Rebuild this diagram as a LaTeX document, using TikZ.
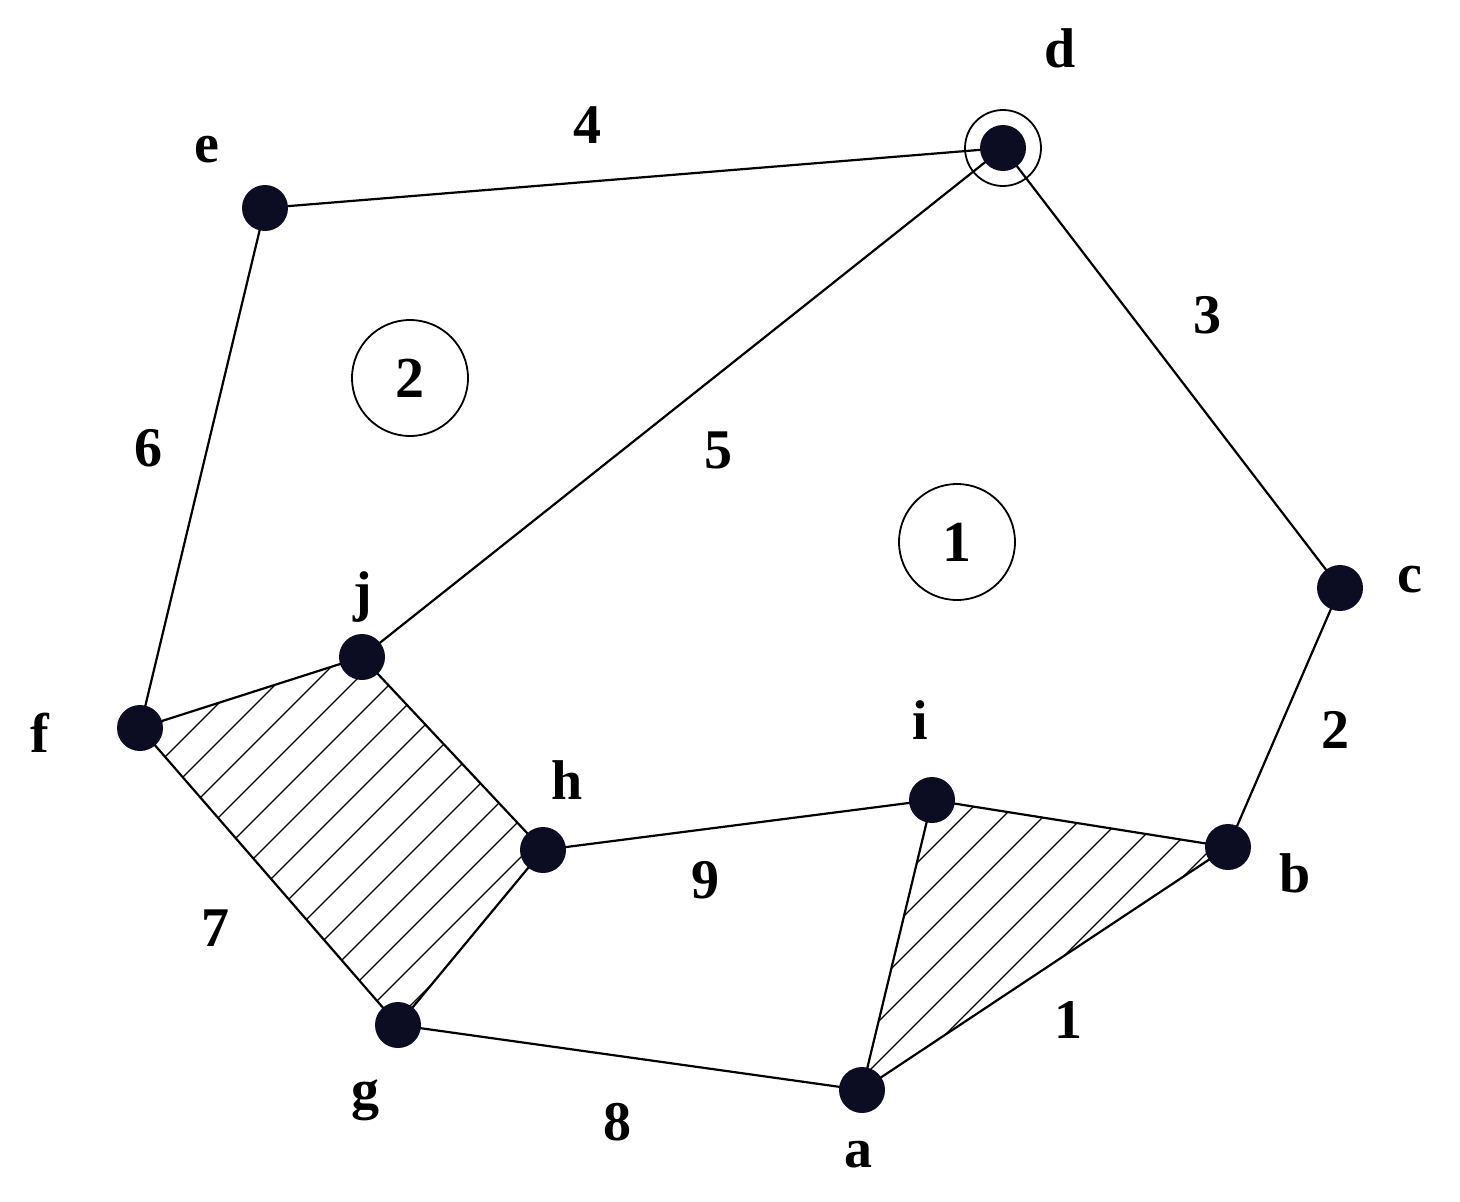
\documentclass[tikz,border=0pt]{standalone}
\usepackage{fontspec}
\setmainfont{Liberation Serif}
\begin{document}
\begin{tikzpicture}[x=1pt,y=-1pt,
  vtx/.style={circle,fill={rgb,255:red,12;green,12;blue,35},minimum size=46pt,inner sep=0pt},
  lbl/.style={font=\fontsize{56}{60}\selectfont\bfseries,inner sep=0pt},
  ring/.style={circle,draw,line width=1.8pt,minimum size=116pt,inner sep=0pt,font=\fontsize{58}{60}\selectfont\bfseries},
  edge/.style={line width=2.2pt}]
\useasboundingbox (0,0) rectangle (1460,1202);
\coordinate (D) at (1003,148); \coordinate (E) at (265,208);
\coordinate (C) at (1340,588); \coordinate (B) at (1228,847);
\coordinate (A) at (862,1090); \coordinate (G) at (398,1025);
\coordinate (H) at (543,850); \coordinate (I) at (932,800);
\coordinate (J) at (362,657); \coordinate (F) at (140,728);
% hatching
\begin{scope}
\clip (F)--(J)--(H)--(G)--cycle;
\foreach \c in {200,238,...,1500} \draw[line width=1.2pt] (\c-1300,1300)--(\c,0);
\end{scope}
\begin{scope}
\clip (I)--(B)--(A)--cycle;
\foreach \c in {1500,1540,...,2300} \draw[line width=1.2pt] (\c-1300,1300)--(\c,0);
\end{scope}
\draw[edge] (E)--(D)--(C)--(B)--(A)--(G)--(F)--(E);
\draw[edge] (D)--(J)--(F); \draw[edge] (J)--(H)--(G); \draw[edge] (H)--(I)--(B); \draw[edge] (I)--(A);
\foreach \n in {D,E,C,B,A,G,H,I,J,F} \node[vtx] (v\n) at (\n) {};
\node[circle,draw,line width=1.8pt,minimum size=76pt] (dring) at (D) {};
\node[lbl] (ld) at (1060,48) {d};
\node[lbl] (le) at (207,150) {e};
\node[lbl] (lc) at (1410,580) {c};
\node[lbl] (lb) at (1295,873) {b};
\node[lbl] (la) at (858,1155) {a};
\node[lbl] (lg) at (365,1100) {g};
\node[lbl] (lh) at (567,780) {h};
\node[lbl] (li) at (920,720) {i};
\node[lbl] (lj) at (363,597) {j};
\node[lbl] (lf) at (40,733) {f};
\node[lbl] (e4) at (587,125) {4};
\node[lbl] (e3) at (1207,315) {3};
\node[lbl] (e6) at (148,448) {6};
\node[lbl] (e5) at (718,450) {5};
\node[lbl] (e2) at (1335,730) {2};
\node[lbl] (e9) at (705,880) {9};
\node[lbl] (e7) at (215,928) {7};
\node[lbl] (e1) at (1068,1020) {1};
\node[lbl] (e8) at (617,1122) {8};
\node[ring] (r2) at (410,378) {2};
\node[ring] (r1) at (957,542) {1};
\end{tikzpicture}
\end{document}
